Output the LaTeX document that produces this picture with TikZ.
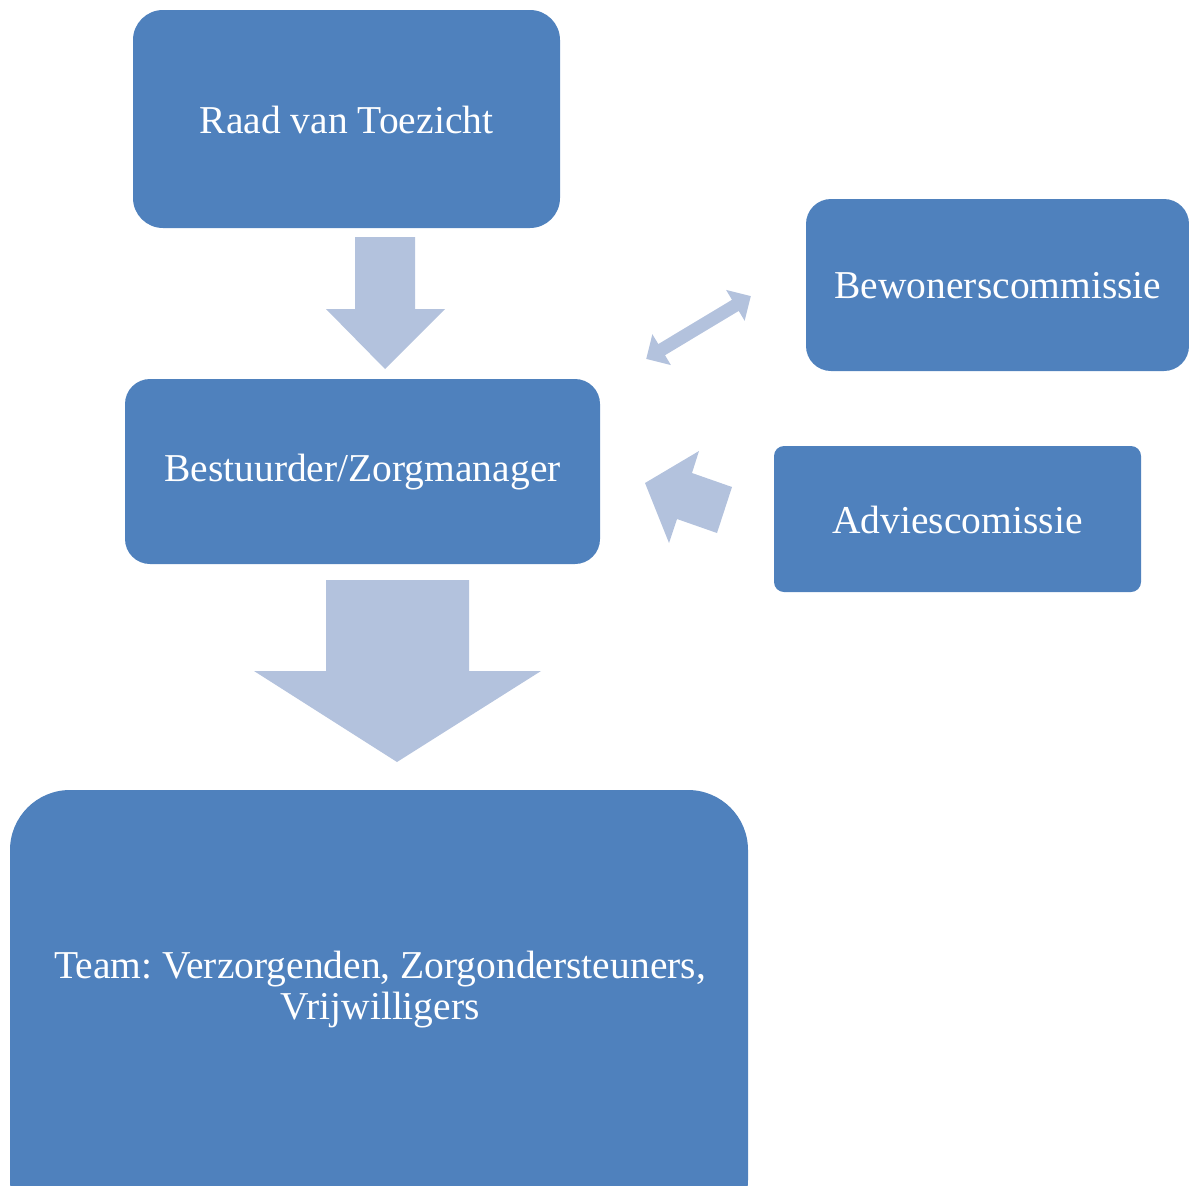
\documentclass[tikz,border=0pt]{standalone}
\usepackage{fontspec}
\setmainfont{Liberation Serif}
\frenchspacing
\definecolor{boxblue}{HTML}{4F81BD}
\definecolor{arrowblue}{HTML}{B3C2DD}
\begin{document}
\begin{tikzpicture}[x=1pt,y=-1pt,
  boxtext/.style={text=white, font=\fontsize{39.5}{41}\selectfont, align=center, inner sep=0pt},
  blockarrow/.style={fill=arrowblue, draw=none}]
\useasboundingbox (0,0) rectangle (1189,1186);
% boxes
\fill[boxblue, rounded corners=30] (133,10) rectangle (560,228);
\node[boxtext] (raad) at (346.5,120) {Raad van Toezicht};
\fill[boxblue, rounded corners=25] (806,199) rectangle (1189,371);
\node[boxtext] (bew) at (998,286) {Bewonerscommissie};
\fill[boxblue, rounded corners=25] (125,379) rectangle (600,564);
\node[boxtext] (best) at (362.5,472) {Bestuurder/Zorgmanager};
\fill[boxblue, rounded corners=10] (774,446) rectangle (1141,592);
\node[boxtext] (adv) at (957.5,520) {Adviescomissie};
\fill[boxblue, rounded corners=60] (10,790) rectangle (748,1240);
\node[boxtext] (team) at (380,990) {Team: Verzorgenden, Zorgondersteuners,\\Vrijwilligers};
% arrows
\fill[blockarrow] (355,237) -- (415,237) -- (415,309) -- (445,309) -- (385,369) -- (326,309) -- (355,309) -- cycle;
\fill[blockarrow] (326,580) -- (469,580) -- (469,671) -- (541,671) -- (397,762) -- (254,671) -- (326,671) -- cycle;
\begin{scope}[shift={(698.5,327.5)}, rotate=31]
\fill[blockarrow] (-61,0) -- (-43,-18) -- (-43,-6.5) -- (43,-6.5) -- (43,-18) -- (61,0) -- (43,18) -- (43,6.5) -- (-43,6.5) -- (-43,18) -- cycle;
\end{scope}
\fill[blockarrow] (645,483) -- (699,451) -- (692,473) -- (732,487) -- (717,533) -- (677,519) -- (669,543) -- cycle;
\end{tikzpicture}
\end{document}
